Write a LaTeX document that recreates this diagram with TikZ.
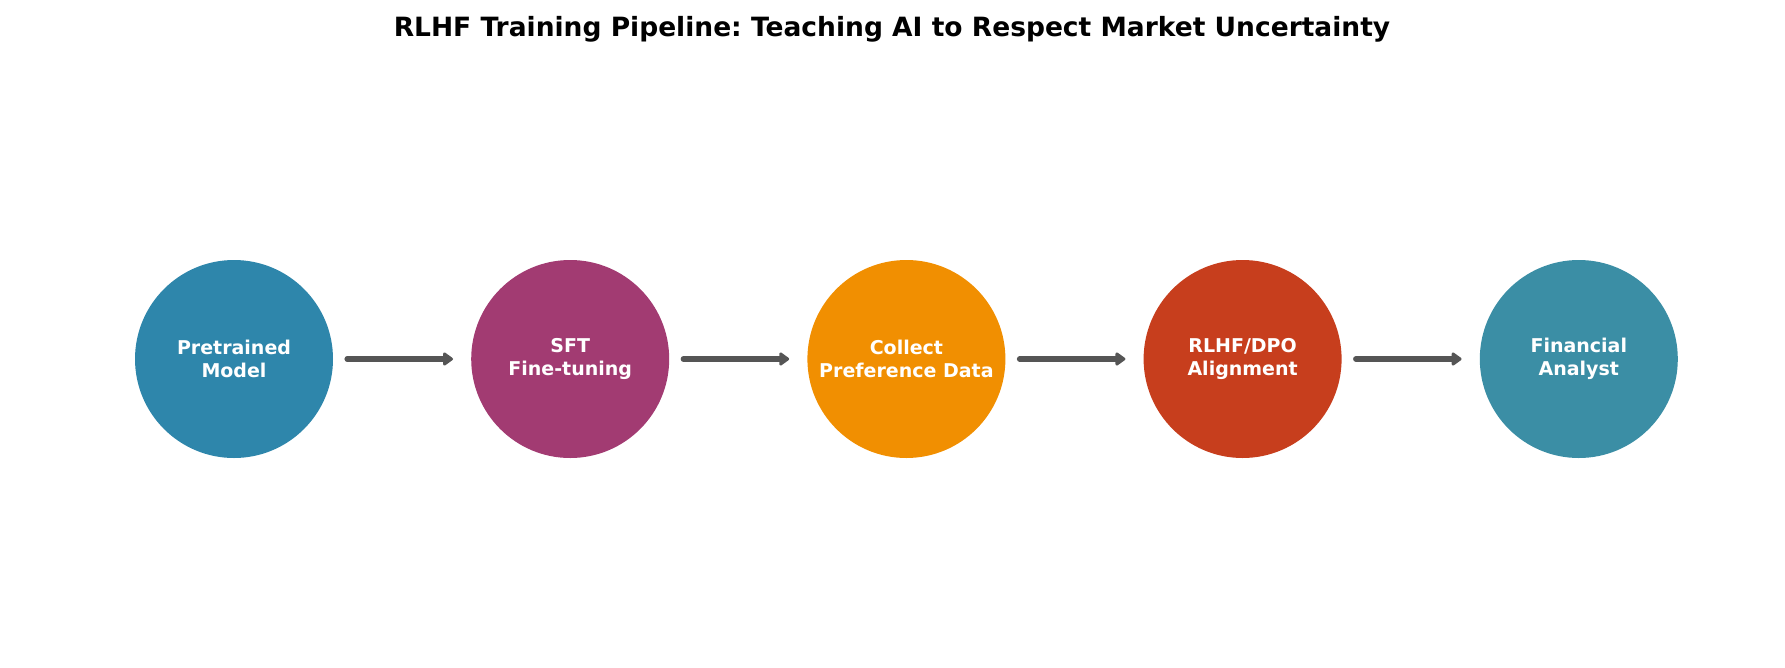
\documentclass[tikz,border=0pt]{standalone}
\usepackage{fontspec}
\setmainfont{DejaVu Sans}
\usetikzlibrary{positioning,arrows.meta}
\frenchspacing
\definecolor{stageblue}{RGB}{46,134,171}
\definecolor{stageplum}{RGB}{162,59,114}
\definecolor{stageorange}{RGB}{241,143,1}
\definecolor{stagered}{RGB}{199,62,29}
\definecolor{stageteal}{RGB}{59,142,165}
\definecolor{flowgrey}{RGB}{85,85,85}
\begin{document}
\begin{tikzpicture}[x=1pt,y=-1pt,
  stage/.style={circle,minimum size=198pt,inner sep=0pt,draw=none,text=white,align=center,font=\bfseries\fontsize{19}{23}\selectfont},
  flow/.style={draw=flowgrey,line width=5.5pt,line cap=round,-{Triangle[length=11pt,width=15pt,round]},shorten <=14pt,shorten >=18pt},
  node distance=137.8pt]
\path[use as bounding box] (0,0) rectangle (1785,667);
\node[anchor=base,font=\bfseries\fontsize{26.5}{32}\selectfont] (title) at (892,36) {RLHF Training Pipeline: Teaching AI to Respect Market Uncertainty};
\node[stage,fill=stageblue] (pretrained) at (234,359) {Pretrained\\Model};
\node[stage,fill=stageplum,right=of pretrained] (sft) {SFT\\Fine-tuning};
\node[stage,fill=stageorange,right=of sft] (collect) {Collect\\Preference Data};
\node[stage,fill=stagered,right=of collect] (align) {RLHF/DPO\\Alignment};
\node[stage,fill=stageteal,right=of align] (analyst) {Financial\\Analyst};
\draw[flow] (pretrained) -- (sft);
\draw[flow] (sft) -- (collect);
\draw[flow] (collect) -- (align);
\draw[flow] (align) -- (analyst);
\end{tikzpicture}
\end{document}
